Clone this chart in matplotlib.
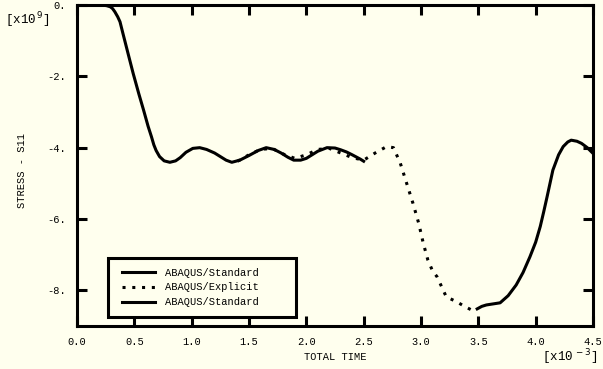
import matplotlib
matplotlib.use("Agg")
import matplotlib.pyplot as plt
from matplotlib.lines import Line2D
from matplotlib.patches import Rectangle

# ---- data (time in 1e-3 s, stress in 1e9) ----
std1_t = [0.0, 0.1, 0.2, 0.23, 0.26, 0.29, 0.31, 0.33, 0.355, 0.375, 0.4, 0.45, 0.49,
          0.54, 0.58, 0.62, 0.65, 0.67, 0.69, 0.72, 0.76, 0.81, 0.86, 0.9, 0.95, 1.01,
          1.07, 1.13, 1.2, 1.25, 1.3, 1.35, 1.42, 1.5, 1.58, 1.65, 1.72, 1.78, 1.84,
          1.89, 1.95, 2.0, 2.05, 2.1, 2.18, 2.25, 2.3, 2.35, 2.4, 2.47, 2.5]
std1_s = [0.0, 0.0, 0.0, -0.005, -0.02, -0.05, -0.1, -0.19, -0.33, -0.47, -0.79, -1.42,
          -1.92, -2.5, -2.94, -3.4, -3.7, -3.92, -4.08, -4.25, -4.37, -4.41, -4.37,
          -4.28, -4.13, -4.02, -4.0, -4.05, -4.15, -4.25, -4.35, -4.41, -4.35, -4.22,
          -4.08, -4.0, -4.05, -4.15, -4.27, -4.35, -4.35, -4.3, -4.2, -4.1, -4.0, -4.01,
          -4.06, -4.12, -4.2, -4.32, -4.38]

exp_t = [1.4, 1.5, 1.6, 1.7, 1.8, 1.9, 2.0, 2.1, 2.2, 2.3, 2.4, 2.5, 2.6, 2.7, 2.76,
         2.82, 2.875, 2.93, 2.98, 3.02, 3.06, 3.1, 3.14, 3.22, 3.31, 3.38, 3.44, 3.48]
exp_s = [-4.38, -4.2, -4.05, -4.02, -4.18, -4.3, -4.2, -4.05, -4.02, -4.15, -4.28, -4.35,
         -4.15, -3.97, -4.0, -4.44, -5.0, -5.56, -6.12, -6.68, -7.15, -7.45, -7.62,
         -8.18, -8.32, -8.45, -8.55, -8.58]

std2_t = [3.49, 3.53, 3.57, 3.63, 3.69, 3.76, 3.83, 3.89, 3.95, 4.0, 4.04, 4.07, 4.10,
          4.15, 4.2, 4.24, 4.28, 4.31, 4.36, 4.40, 4.45, 4.5]
std2_s = [-8.52, -8.45, -8.41, -8.38, -8.35, -8.15, -7.85, -7.5, -7.06, -6.65, -6.21,
          -5.8, -5.37, -4.63, -4.2, -3.97, -3.84, -3.79, -3.82, -3.88, -4.0, -4.16]

x_ticks = [0.0, 0.5, 1.0, 1.5, 2.0, 2.5, 3.0, 3.5, 4.0, 4.5]
x_labels = ["0.0", "0.5", "1.0", "1.5", "2.0", "2.5", "3.0", "3.5", "4.0", "4.5"]
y_ticks = [0, -2, -4, -6, -8]
y_labels = ["0.", "-2.", "-4.", "-6.", "-8."]
legend_labels = ["ABAQUS/Standard", "ABAQUS/Explicit", "ABAQUS/Standard"]

bg = "#FFFFEE"
font = "Liberation Mono"
fs = 7.5
lw = 2.2
W, H = 603, 369

fig = plt.figure(figsize=(6.03, 3.69), dpi=100, facecolor=bg)
ax = fig.add_axes([77/W, 1-326/H, (593-77)/W, (326-5)/H], facecolor=bg)

ax.plot(std1_t, std1_s, color="black", lw=lw, solid_joinstyle="round")
ax.plot(exp_t, exp_s, color="black", lw=lw, linestyle=(0, (1, 2.2)))
ax.plot(std2_t, std2_s, color="black", lw=lw, solid_joinstyle="round")

ax.set_xlim(0, 4.5)
ax.set_ylim(-9, 0)
ax.set_xticks(x_ticks)
ax.set_xticklabels(x_labels, fontfamily=font, fontsize=fs)
ax.set_yticks(y_ticks)
ax.set_yticklabels(y_labels, fontfamily=font, fontsize=fs)
ax.tick_params(direction="in", length=7, width=2.2, top=True, right=True, pad=8)
for s in ax.spines.values():
    s.set_linewidth(2.2)

fig.text(22/W, 1-171/H, "STRESS - S11", rotation=90, ha="center", va="center",
         fontfamily=font, fontsize=fs)
fig.text(335/W, 1-357/H, "TOTAL TIME", ha="center", va="center",
         fontfamily=font, fontsize=fs)
fig.text(542/W, 1-357/H, r"[x10$^{\,-3}$]", ha="left", va="center",
         fontfamily=font, fontsize=9)
fig.text(5/W, 1-20/H, r"[x10$^{\,9}$]", ha="left", va="center",
         fontfamily=font, fontsize=9)

# legend box
box = Rectangle((108/W, 1-317/H), (296-108)/W, (317-258)/H, transform=fig.transFigure,
                facecolor=bg, edgecolor="black", linewidth=2.2, zorder=5)
fig.add_artist(box)

handles = [Line2D([], [], color="black", lw=lw),
           Line2D([], [], color="black", lw=lw, linestyle=(0, (1, 2.2))),
           Line2D([], [], color="black", lw=lw)]
leg = fig.legend(handles, legend_labels, loc="center left",
                 bbox_to_anchor=(122/W, 1-287.5/H), frameon=False,
                 prop={"family": font, "size": fs}, handlelength=3.2, handletextpad=0.9,
                 borderpad=0, labelspacing=0.45, borderaxespad=0)
leg.set_zorder(6)

fig.savefig("out.png", dpi=100, facecolor=bg)
